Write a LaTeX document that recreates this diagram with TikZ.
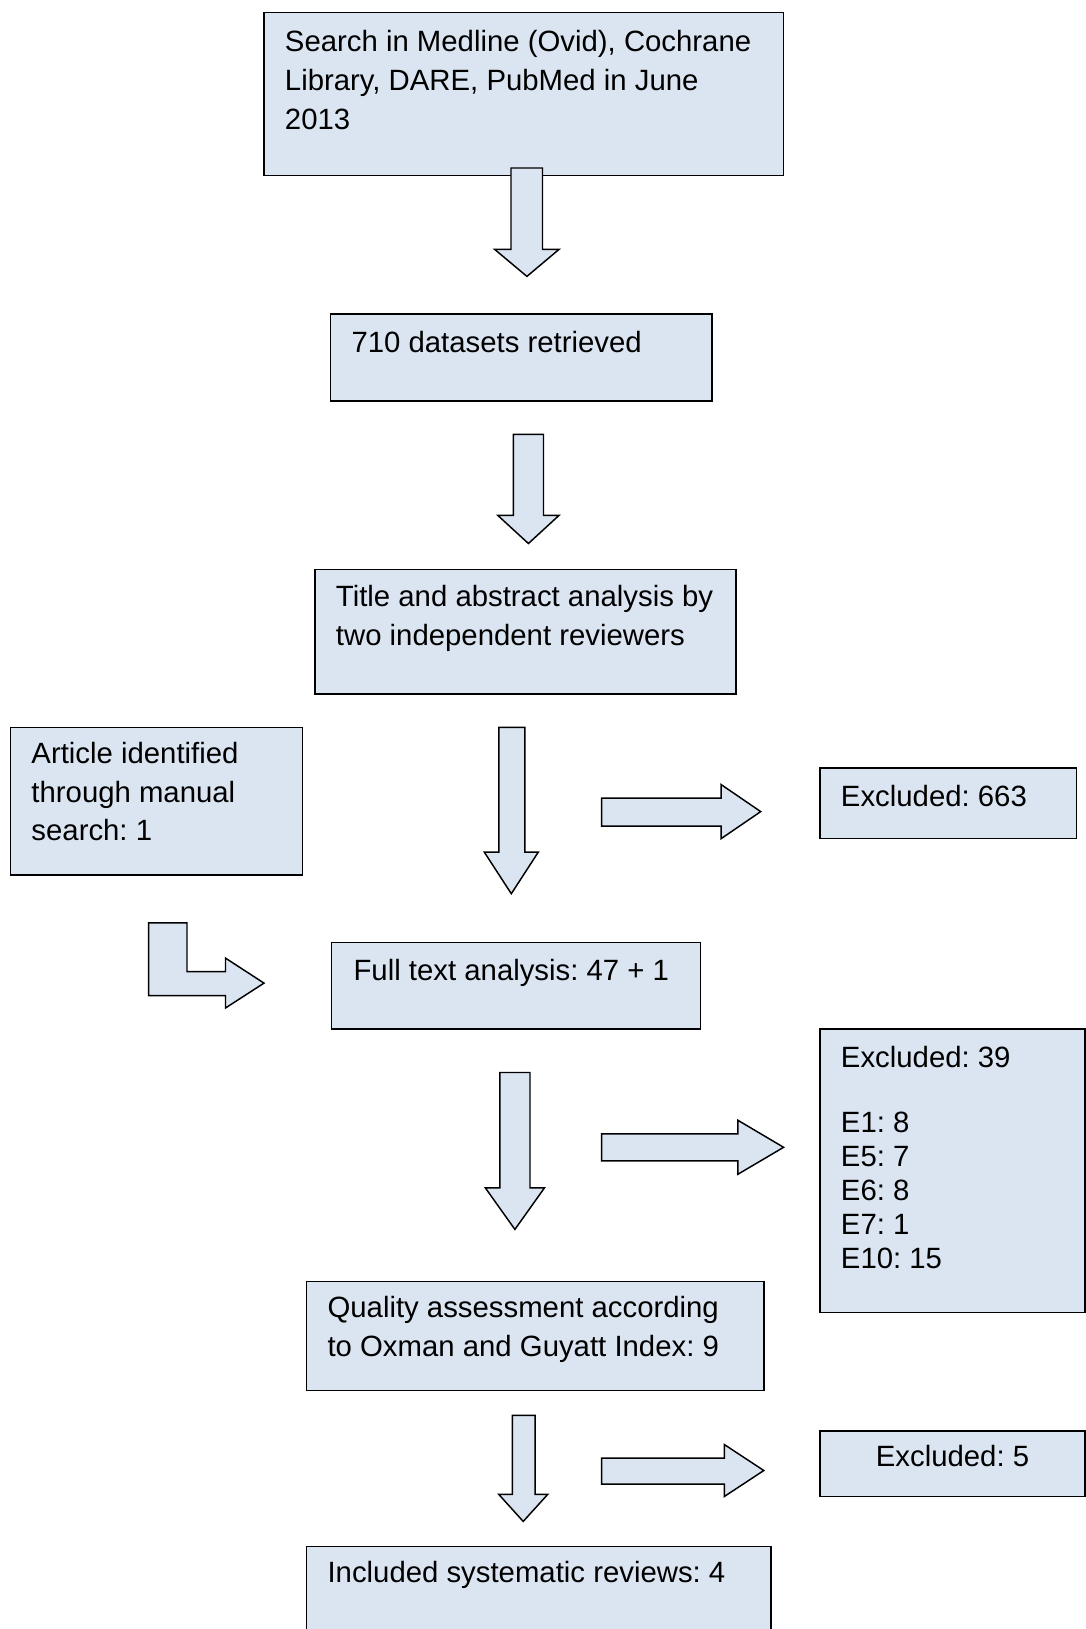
\documentclass[tikz,border=0pt]{standalone}
\usepackage{fontspec}
\setmainfont{Liberation Sans}
\frenchspacing
\usepackage{tikz}
\definecolor{boxfill}{HTML}{DBE5F1}
\tikzset{
  box/.style={draw=black, fill=boxfill, line width=1.1pt},
  txt/.style={anchor=base west, inner sep=0pt, align=left, font=\fontsize{22}{29}\selectfont},
}
\begin{document}
\begin{tikzpicture}[x=0.75pt,y=0.75pt,yscale=-1,xscale=1]
\useasboundingbox (0,0) rectangle (1086,1629);
% boxes
\draw [box] (264,12.5) rectangle (783.6,175.6);
\draw [box] (330.5,313.8) rectangle (711.9,401.1);
\draw [box] (314.9,569.5) rectangle (735.8,694.2);
\draw [box] (10.4,727.4) rectangle (302.4,875);
\draw [box] (820,768) rectangle (1076.6,838.6);
\draw [box] (331.5,942.6) rectangle (700.4,1028.8);
\draw [box] (820,1028.8) rectangle (1085,1312.5);
\draw [box] (306.6,1281.3) rectangle (763.8,1390.5);
\draw [box] (820,1431) rectangle (1085,1496.5);
\draw [box] (306.6,1546.4) rectangle (771.1,1640);
% down arrows
\draw [box] (511,168) -- (542.5,168) -- (542.5,249.4) -- (559,249.4) -- (526.9,276.4) -- (494.7,249.4) -- (511,249.4) -- cycle ;
\draw [box] (513.4,434.4) -- (543.5,434.4) -- (543.5,515.4) -- (559,515.4) -- (528.4,543.5) -- (497.8,515.4) -- (513.4,515.4) -- cycle ;
\draw [box] (498.8,727.4) -- (524.8,727.4) -- (524.8,852.1) -- (538.3,852.1) -- (511.3,893.7) -- (484.3,852.1) -- (498.8,852.1) -- cycle ;
\draw [box] (499.9,1072.5) -- (530,1072.5) -- (530,1187.8) -- (544.5,1187.8) -- (514.9,1229.4) -- (485.3,1187.8) -- (499.9,1187.8) -- cycle ;
\draw [box] (512.3,1415.4) -- (535.2,1415.4) -- (535.2,1494.4) -- (547.7,1494.4) -- (523.2,1521.4) -- (498.8,1494.4) -- (512.3,1494.4) -- cycle ;
% right arrows
\draw [box] (601.7,798.1) -- (721.2,798.1) -- (721.2,784.6) -- (760.7,811.6) -- (721.2,838.6) -- (721.2,826.2) -- (601.7,826.2) -- cycle ;
\draw [box] (601.7,1133.8) -- (737.8,1133.8) -- (737.8,1120.2) -- (783.6,1147.3) -- (737.8,1174.3) -- (737.8,1160.8) -- (601.7,1160.8) -- cycle ;
\draw [box] (601.7,1458) -- (724.3,1458) -- (724.3,1444.5) -- (763.8,1470.5) -- (724.3,1496.5) -- (724.3,1484) -- (601.7,1484) -- cycle ;
% bent arrow
\draw [box] (148.6,922.8) -- (187,922.8) -- (187,971.7) -- (225.5,971.7) -- (225.5,958.1) -- (264,983.1) -- (225.5,1008) -- (225.5,995.6) -- (148.6,995.6) -- cycle ;
% texts (base anchor = last line)
\node [txt] (search) at (284.7,129) {Search in Medline (Ovid), Cochrane\\Library, DARE, PubMed in June\\2013};
\node [txt] (retrieved) at (351.3,352.3) {710 datasets retrieved};
\node [txt] (titleabs) at (335.7,645.4) {Title and abstract analysis by\\two independent reviewers};
\node [txt] (manual) at (31.2,840.8) {Article identified\\through manual\\search: 1};
\node [txt] (excla) at (840.7,806.4) {Excluded: 663};
\node [txt] (fulltext) at (353.3,980) {Full text analysis: 47 + 1};
\node [txt, font=\fontsize{22}{25.5}\selectfont] (exclb) at (840.7,1268) {Excluded: 39\\[22.8pt]E1: 8\\E5: 7\\E6: 8\\E7: 1\\E10: 15};
\node [txt] (quality) at (327.3,1356.2) {Quality assessment according\\to Oxman and Guyatt Index: 9};
\node [txt, anchor=base] (exclc) at (952.5,1466.3) {Excluded: 5};
\node [txt] (included) at (327.3,1582.7) {Included systematic reviews: 4};
\end{tikzpicture}
\end{document}
